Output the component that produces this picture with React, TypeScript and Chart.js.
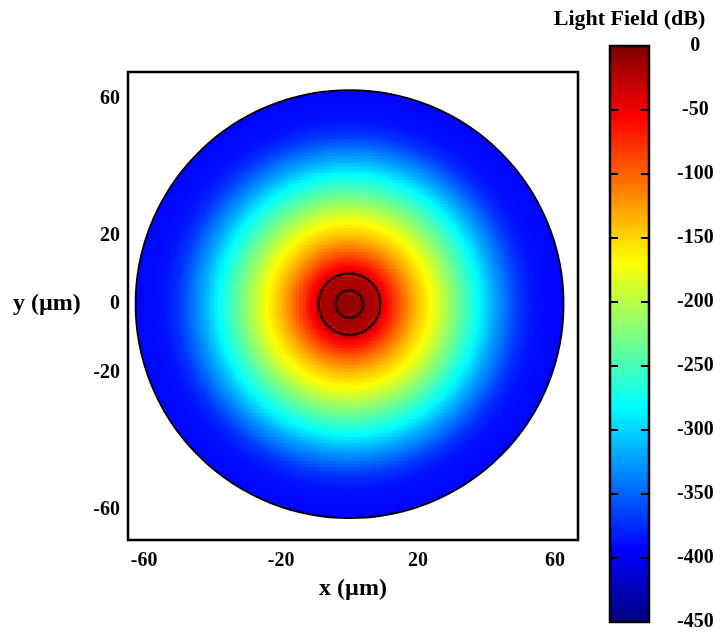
import React, { useEffect, useRef } from 'react';
import { Chart, registerables } from 'chart.js';

Chart.register(...registerables);

// ---------- data ----------
const xTickValues = [-60, -20, 20, 60];
const yTickValues = [-60, -20, 0, 20, 60];
const xRange = [-64.7, 66.7];
const yRange = [-68.9, 67.8];
const fiberRadiusUm = 62.5;
const ringRadiiUm = [9, 4];
// radial light-field profile (radius in µm -> dB)
const profileRadiusUm = [0, 2, 4, 6, 8, 9, 9.6, 10.3, 11, 13, 15, 17, 20, 24, 27, 30, 34, 38, 42, 46, 50, 54, 58, 62.5];
const profileDb = [-8, -10, -13, -17, -21, -25, -38, -48, -56, -76, -95, -114, -140, -169, -193, -218, -250, -281, -316, -345, -372, -386, -390, -392];
const gridStepUm = 1;
const colorbarRange = [-450, 0];
const colorbarStep = 50;
const colorbarSliceDb = 3;
// jet colormap stops
const jetStopsDb = [-450, -393.75, -281.25, -168.75, -56.25, 0];
const jetStopsRgb = [
  [0, 0, 128],
  [0, 0, 255],
  [0, 255, 255],
  [255, 255, 0],
  [255, 0, 0],
  [128, 0, 0],
];

const FONT = '"Liberation Serif", "Times New Roman", serif';

function jet(v: number): string {
  const lo = jetStopsDb[0];
  const hi = jetStopsDb[jetStopsDb.length - 1];
  const x = Math.max(lo, Math.min(hi, v));
  for (let i = 0; i < jetStopsDb.length - 1; i++) {
    const a = jetStopsDb[i];
    const b = jetStopsDb[i + 1];
    if (x >= a && x <= b) {
      const t = (x - a) / (b - a);
      const c0 = jetStopsRgb[i];
      const c1 = jetStopsRgb[i + 1];
      const r = Math.round(c0[0] + (c1[0] - c0[0]) * t);
      const g = Math.round(c0[1] + (c1[1] - c0[1]) * t);
      const bb = Math.round(c0[2] + (c1[2] - c0[2]) * t);
      return `rgb(${r},${g},${bb})`;
    }
  }
  return 'rgb(0,0,128)';
}

function profileAt(r: number): number {
  if (r <= profileRadiusUm[0]) return profileDb[0];
  for (let i = 0; i < profileRadiusUm.length - 1; i++) {
    const a = profileRadiusUm[i];
    const b = profileRadiusUm[i + 1];
    if (r >= a && r <= b) {
      const t = (r - a) / (b - a);
      return profileDb[i] + (profileDb[i + 1] - profileDb[i]) * t;
    }
  }
  return profileDb[profileDb.length - 1];
}

function buildCells() {
  const cells: { x: number; y: number }[] = [];
  const colors: string[] = [];
  const n = Math.ceil((fiberRadiusUm + 2) / gridStepUm);
  for (let i = -n; i <= n; i++) {
    for (let j = -n; j <= n; j++) {
      const x = i * gridStepUm;
      const y = j * gridStepUm;
      const r = Math.hypot(x, y);
      if (r <= fiberRadiusUm + 1.5 * gridStepUm) {
        cells.push({ x, y });
        colors.push(jet(profileAt(r)));
      }
    }
  }
  return { cells, colors };
}

const fieldPlugin = {
  id: 'fieldPlugin',
  beforeDatasetsDraw(chart: any) {
    const { ctx, scales } = chart;
    const cx = scales.x.getPixelForValue(0);
    const cy = scales.y.getPixelForValue(0);
    const rp = Math.abs(scales.x.getPixelForValue(fiberRadiusUm) - cx);
    ctx.save();
    ctx.beginPath();
    ctx.arc(cx, cy, rp, 0, Math.PI * 2);
    ctx.clip();
  },
  afterDatasetsDraw(chart: any) {
    const { ctx, scales, chartArea } = chart;
    ctx.restore();
    const cx = scales.x.getPixelForValue(0);
    const cy = scales.y.getPixelForValue(0);
    ctx.save();
    ctx.strokeStyle = '#000';
    ctx.lineWidth = 1.8;
    ctx.beginPath();
    ctx.arc(cx, cy, Math.abs(scales.x.getPixelForValue(fiberRadiusUm) - cx), 0, Math.PI * 2);
    ctx.stroke();
    ctx.lineWidth = 1.8;
    for (const rr of ringRadiiUm) {
      ctx.beginPath();
      ctx.arc(cx, cy, Math.abs(scales.x.getPixelForValue(rr) - cx), 0, Math.PI * 2);
      ctx.stroke();
    }
    // plot frame
    ctx.lineWidth = 2.5;
    ctx.strokeRect(chartArea.left, chartArea.top, chartArea.right - chartArea.left, chartArea.bottom - chartArea.top);
    // horizontal y-axis title
    ctx.fillStyle = '#000';
    ctx.font = `bold 24px ${FONT}`;
    ctx.textAlign = 'left';
    ctx.textBaseline = 'middle';
    ctx.fillText('y (µm)', 13, scales.y.getPixelForValue(0));
    ctx.restore();
  },
};

const colorbarPlugin = {
  id: 'colorbarPlugin',
  afterDraw(chart: any) {
    const { ctx, chartArea, scales } = chart;
    ctx.save();
    ctx.strokeStyle = '#000';
    ctx.lineWidth = 2.5;
    ctx.strokeRect(chartArea.left, chartArea.top, chartArea.right - chartArea.left, chartArea.bottom - chartArea.top);
    ctx.lineWidth = 2.2;
    for (const t of scales.y.ticks) {
      if (t.value <= colorbarRange[0] || t.value >= colorbarRange[1]) continue;
      const y = scales.y.getPixelForValue(t.value);
      ctx.beginPath();
      ctx.moveTo(chartArea.left, y);
      ctx.lineTo(chartArea.left + 8, y);
      ctx.moveTo(chartArea.right - 8, y);
      ctx.lineTo(chartArea.right, y);
      ctx.stroke();
    }
    ctx.fillStyle = '#000';
    ctx.font = `bold 22px ${FONT}`;
    ctx.textAlign = 'center';
    ctx.textBaseline = 'alphabetic';
    ctx.fillText('Light Field (dB)', (chartArea.left + chartArea.right) / 2, 25);
    ctx.restore();
  },
};

export default function App() {
  const mainRef = useRef<HTMLCanvasElement | null>(null);
  const cbRef = useRef<HTMLCanvasElement | null>(null);

  useEffect(() => {
    const { cells, colors } = buildCells();
    const tickFont = { family: FONT, size: 20, weight: 'bold' as const };

    const main = new Chart(mainRef.current as HTMLCanvasElement, {
      type: 'scatter',
      data: {
        datasets: [
          {
            data: cells,
            backgroundColor: colors,
            borderWidth: 0,
            pointStyle: 'rect',
            pointRadius: (c: any) => {
              const s = c.chart.scales.x;
              const cell = Math.abs(s.getPixelForValue(gridStepUm) - s.getPixelForValue(0));
              return (cell + 1.6) * Math.SQRT1_2;
            },
          } as any,
        ],
      },
      options: {
        animation: false,
        responsive: false,
        events: [],
        devicePixelRatio: 1,
        layout: { padding: { left: 0, top: 72, right: 144, bottom: 0 } },
        plugins: { legend: { display: false }, tooltip: { enabled: false } },
        scales: {
          x: {
            type: 'linear',
            min: xRange[0],
            max: xRange[1],
            afterBuildTicks: (s: any) => {
              s.ticks = xTickValues.map((v) => ({ value: v }));
            },
            afterFit: (s: any) => {
              s.height = 92;
              s.paddingLeft = 0;
              s.paddingRight = 0;
            },
            grid: { display: false, drawTicks: false },
            border: { display: false },
            ticks: { font: tickFont, color: '#000', padding: 9, maxRotation: 0, autoSkip: false },
            title: {
              display: true,
              text: 'x (µm)',
              color: '#000',
              font: { family: FONT, size: 24, weight: 'bold' },
              padding: { top: 0, bottom: 29 },
            },
          },
          y: {
            type: 'linear',
            min: yRange[0],
            max: yRange[1],
            afterBuildTicks: (s: any) => {
              s.ticks = yTickValues.map((v) => ({ value: v }));
            },
            afterFit: (s: any) => {
              s.width = 128;
              s.paddingTop = 0;
              s.paddingBottom = 0;
            },
            grid: { display: false, drawTicks: false },
            border: { display: false },
            ticks: { font: tickFont, color: '#000', padding: 8, autoSkip: false },
          },
        },
      } as any,
      plugins: [fieldPlugin],
    });

    const slices: { lo: number; hi: number }[] = [];
    for (let v = colorbarRange[0]; v < colorbarRange[1]; v += colorbarSliceDb) {
      slices.push({ lo: v, hi: Math.min(colorbarRange[1], v + colorbarSliceDb) });
    }
    const cb = new Chart(cbRef.current as HTMLCanvasElement, {
      type: 'bar',
      data: {
        labels: ['cb'],
        datasets: slices.map((s) => ({
          data: [[Math.max(colorbarRange[0], s.lo - 0.6), s.hi]],
          backgroundColor: jet((s.lo + s.hi) / 2),
          borderWidth: 0,
          barPercentage: 1,
          categoryPercentage: 1,
          grouped: false,
        })) as any,
      },
      options: {
        animation: false,
        responsive: false,
        events: [],
        devicePixelRatio: 1,
        layout: { padding: { left: 110, top: 46, right: 0, bottom: 10 } },
        plugins: { legend: { display: false }, tooltip: { enabled: false } },
        scales: {
          x: { display: false },
          y: {
            min: colorbarRange[0],
            max: colorbarRange[1],
            position: 'right',
            afterFit: (s: any) => {
              s.width = 73;
              s.paddingTop = 0;
              s.paddingBottom = 0;
            },
            grid: { display: false, drawTicks: false },
            border: { display: false },
            ticks: { stepSize: colorbarStep, font: tickFont, color: '#000', padding: 28, crossAlign: 'center' },
          },
        },
      } as any,
      plugins: [colorbarPlugin],
    });

    return () => {
      main.destroy();
      cb.destroy();
    };
  }, []);

  return (
    <div style={{ position: 'fixed', left: 0, top: 0, width: 722, height: 632, background: '#fff' }}>
      <canvas ref={mainRef} width={722} height={632} style={{ position: 'absolute', left: 0, top: 0, width: 722, height: 632 }} />
      <canvas ref={cbRef} width={222} height={632} style={{ position: 'absolute', left: 500, top: 0, width: 222, height: 632 }} />
    </div>
  );
}
